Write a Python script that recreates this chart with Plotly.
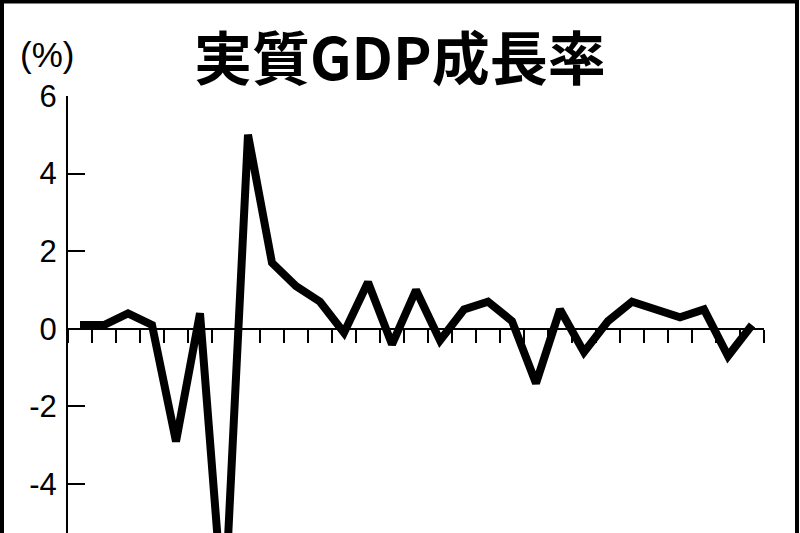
import plotly.graph_objects as go

# quarterly real GDP growth (q/q, %)
quarters = list(range(29))
growth = [0.1, 0.1, 0.4, 0.1, -2.9, 0.4, -7.5, 5.0, 1.7, 1.1,
          0.7, -0.1, 1.2, -0.4, 1.0, -0.3, 0.5, 0.7, 0.2, -1.4,
          0.5, -0.6, 0.2, 0.7, 0.5, 0.3, 0.5, -0.7, 0.1]
y_ticks = [-4, -2, 0, 2, 4, 6]
y_min, y_max = -5.26, 6

fig = go.Figure()

fig.add_trace(go.Scatter(
    x=quarters, y=growth, mode='lines',
    line=dict(color='black', width=8),
    hoverinfo='skip', showlegend=False
))

fig.update_layout(
    width=800, height=533,
    margin=dict(l=68, r=36, t=96, b=0),
    paper_bgcolor='white', plot_bgcolor='white',
    font=dict(family='Liberation Sans, Arial, sans-serif', color='black'),
    xaxis=dict(
        range=[-0.5, len(quarters) - 0.5],
        tick0=-0.5, dtick=1,
        ticks='outside', ticklen=13, tickwidth=2, tickcolor='black',
        showticklabels=False, showgrid=False, zeroline=False,
        showline=True, linecolor='black', linewidth=2,
        anchor='free', position=(0 - y_min) / (y_max - y_min),
    ),
    yaxis=dict(
        range=[y_min, y_max],
        tickvals=y_ticks, ticktext=[str(v) for v in y_ticks],
        ticks='inside', ticklen=17, tickwidth=2, tickcolor='black',
        tickfont=dict(size=31), ticklabelstandoff=3,
        showgrid=False, zeroline=False,
        showline=True, linecolor='black', linewidth=2,
    ),
    annotations=[
        dict(text='実質GDP成長率', xref='paper', yref='paper',
             x=(400 - 68) / 696, y=(533 - 55) / 437,
             xanchor='center', yanchor='middle', showarrow=False,
             font=dict(family='Noto Sans CJK JP', size=58, weight='bold', color='black')),
        dict(text='(%)', xref='paper', yref='paper',
             x=(47 - 68) / 696, y=(533 - 54) / 437,
             xanchor='center', yanchor='middle', showarrow=False,
             font=dict(size=35, color='black')),
    ],
    shapes=[
        # frame round the picture
        dict(type='rect', xref='paper', yref='paper',
             x0=(2 - 68) / 696, x1=(797 - 68) / 696,
             y0=(533 - 560) / 437, y1=(533 - 1.5) / 437,
             line=dict(color='black', width=4), layer='above'),
    ],
)

fig.write_html("out.html", config={'displayModeBar': False},
               post_script="document.body.style.margin='0';")
